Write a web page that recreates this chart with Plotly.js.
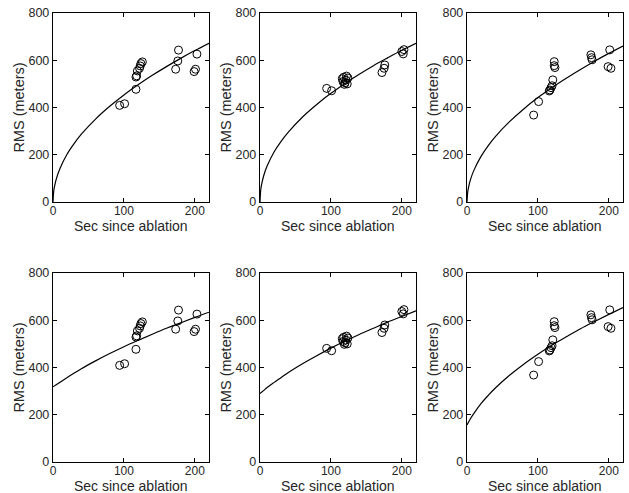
<!DOCTYPE html>
<html>
<head>
<meta charset="utf-8">
<script src="https://cdn.plot.ly/plotly-3.0.1.min.js"></script>
<style>html,body{margin:0;padding:0;background:#fff}#chart{width:629px;height:493px}</style>
</head>
<body>
<div id="chart"></div>
<script>
// ---- Data ----
// Observations (same measurements in top and bottom row of each column)
const obsA_x = [94, 101, 117, 117, 118, 119, 122, 123, 124, 126, 173, 176, 177, 199, 201, 203];
const obsA_y = [409, 416, 477, 529, 534, 555, 566, 576, 586, 593, 562, 597, 643, 552, 562, 626];

const obsB_x = [94, 101, 116, 117, 118, 119, 120, 121, 122, 123, 124, 172, 175, 176, 200, 202, 203];
const obsB_y = [481, 471, 522, 510, 528, 498, 505, 516, 533, 500, 525, 548, 566, 580, 637, 627, 645];

const obsC_x = [94, 101, 116, 117, 118.5, 120, 121, 123, 123, 124, 174.7, 175.6, 176.5, 199, 201.3, 203];
const obsC_y = [368, 425, 470, 474, 484, 492, 517, 594, 577, 569, 623, 611, 602, 573, 644, 566];

// Fitted curves
const fitTop_x = [0, 1, 2, 5, 10, 20, 30, 40, 60, 80, 100, 120, 140, 160, 180, 200, 220];
const fitTopA_y = [0, 45, 64, 101, 143, 203, 248, 287, 351, 405, 453, 496, 536, 573, 608, 641, 672];
const fitTopB_y = [0, 50, 70, 109, 152, 213, 258, 296, 360, 413, 460, 502, 541, 577, 610, 642, 672];
const fitTopC_y = [0, 42, 60, 96, 136, 194, 239, 277, 340, 394, 442, 485, 524, 561, 596, 629, 660];

const fitBot_x = [0, 5, 10, 20, 30, 40, 60, 80, 100, 120, 140, 160, 180, 200, 220];
const fitBotA_y = [318, 328, 338, 358, 377, 395, 428, 459, 488, 515, 541, 566, 589, 612, 634];
const fitBotB_y = [290, 302, 315, 337, 358, 379, 416, 450, 482, 512, 540, 566, 592, 616, 640];
const fitBotC_y = [157, 184, 207, 248, 282, 313, 367, 414, 456, 495, 530, 564, 595, 625, 654];

const xTicks = [0, 100, 200];
const yTicks = [0, 200, 400, 600, 800];
const xLabel = 'Sec since ablation';
const yLabel = 'RMS (meters)';

// ---- Build figure ----
const panels = [
  {ox: obsA_x, oy: obsA_y, fx: fitTop_x, fy: fitTopA_y},
  {ox: obsB_x, oy: obsB_y, fx: fitTop_x, fy: fitTopB_y},
  {ox: obsC_x, oy: obsC_y, fx: fitTop_x, fy: fitTopC_y},
  {ox: obsA_x, oy: obsA_y, fx: fitBot_x, fy: fitBotA_y},
  {ox: obsB_x, oy: obsB_y, fx: fitBot_x, fy: fitBotB_y},
  {ox: obsC_x, oy: obsC_y, fx: fitBot_x, fy: fitBotC_y}
];

const W = 629, H = 493;
const colPx = [[53, 209], [260, 416], [467, 623]];
const rowPx = [[13, 202], [273, 462]];
const xTitleCenterPx = [226, 486];
const txt = '#262626';

const traces = [];
const annotations = [];
const layout = {
  width: W, height: H,
  margin: {l: 0, r: 0, t: 0, b: 0},
  paper_bgcolor: '#fff', plot_bgcolor: '#fff',
  showlegend: false,
  font: {family: 'Liberation Sans, Arial, sans-serif', color: txt, size: 12}
};

panels.forEach((p, i) => {
  const n = i + 1;
  const xa = n === 1 ? 'x' : 'x' + n;
  const ya = n === 1 ? 'y' : 'y' + n;
  traces.push({x: p.fx, y: p.fy, xaxis: xa, yaxis: ya, type: 'scatter', mode: 'lines',
    line: {color: '#000', width: 1.2, shape: 'spline'}, hoverinfo: 'skip'});
  traces.push({x: p.ox, y: p.oy, xaxis: xa, yaxis: ya, type: 'scatter', mode: 'markers',
    marker: {symbol: 'circle-open', size: 8, color: '#000', line: {width: 1, color: '#000'}}});
  const c = colPx[i % 3], row = Math.floor(i / 3), r = rowPx[row];
  const common = {
    showgrid: false, zeroline: false, showline: true, linecolor: '#000', linewidth: 1.2,
    mirror: 'allticks', ticks: 'inside', ticklen: 4, tickcolor: '#000', tickwidth: 1
  };
  layout['xaxis' + (n === 1 ? '' : n)] = Object.assign({}, common, {
    domain: [c[0] / W, c[1] / W], anchor: ya, range: [0, 220],
    tickmode: 'array', tickvals: xTicks, ticklabelstandoff: -3,
    tickfont: {size: 12, color: txt}
  });
  layout['yaxis' + (n === 1 ? '' : n)] = Object.assign({}, common, {
    domain: [1 - r[1] / H, 1 - r[0] / H], anchor: xa, range: [0, 800],
    tickmode: 'array', tickvals: yTicks,
    tickfont: {size: 12.5, color: txt},
    title: {text: yLabel, font: {size: 14.5, color: txt}, standoff: 0}
  });
  annotations.push({
    text: xLabel, showarrow: false, xref: 'paper', yref: 'paper',
    x: (c[0] + c[1]) / 2 / W, y: 1 - xTitleCenterPx[row] / H,
    xanchor: 'center', yanchor: 'middle', borderpad: 0,
    font: {size: 14, color: txt}
  });
});
layout.annotations = annotations;

Plotly.newPlot('chart', traces, layout, {displayModeBar: false, staticPlot: true});
</script>
</body>
</html>
